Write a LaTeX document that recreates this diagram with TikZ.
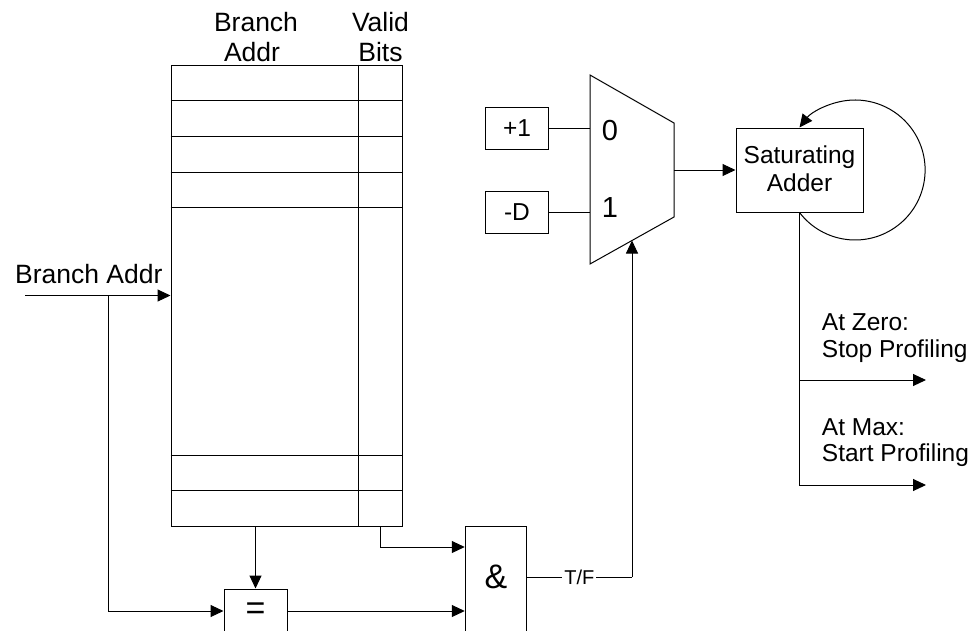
\documentclass[tikz,border=0pt]{standalone}
\usepackage{fontspec}
\setmainfont{Liberation Sans}
\usetikzlibrary{arrows.meta}
\tikzset{
  ln/.style={line width=1pt, draw=black},
  arr/.style={ln, -{Triangle[length=13pt,width=12pt]}},
  box/.style={draw, line width=1pt, inner sep=0pt},
  lbl/.style={font=\fontsize{24.5}{28}\selectfont, inner sep=0pt},
  hdr/.style={font=\fontsize{26.5}{30}\selectfont, inner sep=0pt},
  big/.style={font=\fontsize{34}{34}\selectfont, inner sep=0pt},
  dig/.style={font=\fontsize{29}{29}\selectfont, inner sep=0pt},
}
\begin{document}
\begin{tikzpicture}[x=1pt, y=-1pt]
\useasboundingbox (0,0) rectangle (971,630);
\clip (0,0) rectangle (971,630);

% table
\node[box, minimum width=231pt, minimum height=461pt] (tbl) at (286.5,295.5) {};
\foreach \yy in {100,136,172,207.5,455,490.5}
  \draw[ln] (tbl.west |- 0,\yy) -- (tbl.east |- 0,\yy);
\draw[ln] (tbl.north -| 358.5,0) -- (tbl.south -| 358.5,0);

% headers
\node[hdr, anchor=base] (hb1) at (256,31.7) {Branch};
\node[hdr, anchor=base] (hb2) at (252,61.7) {Addr};
\node[hdr, anchor=base] (hv1) at (380.5,31.7) {Valid};
\node[hdr, anchor=base] (hv2) at (380.5,61.7) {Bits};

% input
\node[hdr, anchor=base west] (inlbl) at (15,283) {Branch Addr};
\coordinate (in) at (25,295.5);
\coordinate (bp) at (108,295.5);
\draw[arr] (in) -- (tbl.west);

% compare box
\node[box, big, minimum width=63pt, minimum height=44pt] (eqb) at (255.5,611) {=};
\draw[arr] (bp) |- (eqb.west);
\draw[arr] (eqb.north |- tbl.south) -- (eqb.north);

% and gate
\node[box, minimum width=61.5pt, minimum height=120pt, anchor=north] (andg) at (496,526) {};
\node[big] (amp) at (496,577) {\&};
\coordinate (vb) at (380.5,526);
\draw[arr] (vb) |- (andg.west |- 0,547);
\draw[arr] (eqb.east) -- (eqb.east -| andg.west);

% mux
\coordinate (m1) at (590,75);
\coordinate (m2) at (674,123);
\coordinate (m3) at (674,217);
\coordinate (m4) at (590,264);
\draw[ln] (m1) -- (m2) -- (m3) -- (m4) -- cycle;
\node[dig] (d0) at (610,131) {0};
\node[dig] (d1) at (610,208) {1};

\node[box, lbl, minimum width=62.5pt, minimum height=42pt] (p1) at (517,128) {+1};
\node[box, lbl, minimum width=62.5pt, minimum height=42pt] (pd) at (517,212) {-D};
\draw[ln] (p1.east) -- (p1.east -| m1);
\draw[ln] (pd.east) -- (pd.east -| m1);

% T/F select
\coordinate (tfs) at (526.75,577);
\coordinate (tfc) at (632,577);
\coordinate (msel) at (632,240.5);
\draw[ln] (tfs) -- (tfc) node[midway, fill=white, inner sep=2pt, font=\fontsize{20}{20}\selectfont] (tf) {T/F};
\draw[arr] (tfc) -- (msel);

% saturating adder
\node[box, minimum width=127pt, minimum height=84pt] (sat) at (799.5,170) {};
\node[lbl, anchor=base] (s1) at (799.5,163.3) {Saturating};
\node[lbl, anchor=base] (s2) at (799.5,191.7) {Adder};
\coordinate (mo) at (674,170);
\draw[arr] (mo) -- (sat.west);
\draw[arr] (sat.south) arc[start angle=217.4, end angle=502.6, radius=70pt];

% outputs
\coordinate (o1) at (799.5,380);
\coordinate (o2) at (799.5,485);
\coordinate (t1) at (926,380);
\coordinate (t2) at (926,485);
\draw[arr] (sat.south) |- (t2);
\draw[arr] (o1) -- (t1);
\node[lbl, anchor=base west] (z1) at (821.7,330.7) {At Zero:};
\node[lbl, anchor=base west] (z2) at (821.7,357) {Stop Profiling};
\node[lbl, anchor=base west] (x1) at (821.7,435) {At Max:};
\node[lbl, anchor=base west] (x2) at (821.7,461.7) {Start Profiling};
\end{tikzpicture}
\end{document}
